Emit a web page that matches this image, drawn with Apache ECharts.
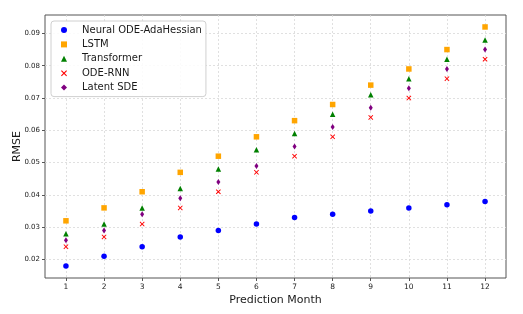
<!DOCTYPE html>
<html><head><meta charset="utf-8">
<script src="https://cdn.jsdelivr.net/npm/echarts@6/dist/echarts.min.js"></script>
<style>html,body{margin:0;padding:0;background:#fff}#c{width:523px;height:314px}</style>
</head><body><div id="c"></div>
<script>
const months = [1,2,3,4,5,6,7,8,9,10,11,12];
const neuralODE = [0.018,0.021,0.024,0.027,0.029,0.031,0.033,0.034,0.035,0.036,0.037,0.038];
const lstm = [0.032,0.036,0.041,0.047,0.052,0.058,0.063,0.068,0.074,0.079,0.085,0.092];
const transformer = [0.028,0.031,0.036,0.042,0.048,0.054,0.059,0.065,0.071,0.076,0.082,0.088];
const odeRnn = [0.024,0.027,0.031,0.036,0.041,0.047,0.052,0.058,0.064,0.070,0.076,0.082];
const latentSde = [0.026,0.029,0.034,0.039,0.044,0.049,0.055,0.061,0.067,0.073,0.079,0.085];
const seriesNames = ['Neural ODE-AdaHessian','LSTM','Transformer','ODE-RNN','Latent SDE'];
const yTicks = [0.02,0.03,0.04,0.05,0.06,0.07,0.08,0.09];

const pts = arr => months.map((m,i)=>[m, arr[i]]);
const xPath = 'path://M0,1.3L1.3,0L5,3.7L8.7,0L10,1.3L6.3,5L10,8.7L8.7,10L5,6.3L1.3,10L0,8.7L3.7,5Z';
const font = 'DejaVu Sans';
const chart = echarts.init(document.getElementById('c'));
chart.setOption({
  animation: false,
  backgroundColor: '#fff',
  grid: {left: 45, top: 15, right: 17, bottom: 36, show: true, borderColor: '#555', borderWidth: 1,
         backgroundColor: 'transparent', containLabel: false, outerBoundsMode: 'none'},
  legend: {
    orient: 'vertical', left: 51, top: 21,
    data: seriesNames,
    itemWidth: 6, itemHeight: 6, itemGap: 2.4,
    padding: [3, 4, 3, 10],
    backgroundColor: 'rgba(255,255,255,0.85)', borderColor: '#d0d0d0', borderWidth: 1, borderRadius: 3,
    textStyle: {fontFamily: font, fontSize: 10, color: '#1a1a1a', padding: [0,0,0,10], lineHeight: 12}
  },
  xAxis: {
    type: 'value', min: 0.45, max: 12.55,
    name: 'Prediction Month', nameLocation: 'middle', nameGap: 17, nameMoveOverlap: false,
    nameTextStyle: {fontFamily: font, fontSize: 11, color: '#1a1a1a'},
    axisLine: {show: false},
    axisTick: {show: true, length: 3, lineStyle: {color: '#555'}, customValues: months},
    axisLabel: {fontFamily: font, fontSize: 7.5, color: '#222', margin: 5, customValues: months,
      formatter: v => String(v)},
    splitLine: {show: true, lineStyle: {color: '#d8d8d8', type: [2,2], width: 0.8}}
  },
  yAxis: {
    type: 'value', min: 0.0143, max: 0.0957,
    name: 'RMSE', nameLocation: 'middle', nameGap: 22, nameMoveOverlap: false,
    nameTextStyle: {fontFamily: font, fontSize: 11, color: '#1a1a1a'},
    axisLine: {show: false},
    axisTick: {show: true, length: 3, lineStyle: {color: '#555'}, customValues: yTicks},
    axisLabel: {fontFamily: font, fontSize: 7, color: '#222', margin: 5, customValues: yTicks,
      formatter: v => v.toFixed(2)},
    splitLine: {show: true, lineStyle: {color: '#d8d8d8', type: [2,2], width: 0.8}}
  },
  series: [
    {name: seriesNames[0], type: 'scatter', data: pts(neuralODE), symbol: 'circle', symbolSize: 5.5, itemStyle: {color: '#0000ff', opacity: 1}},
    {name: seriesNames[1], type: 'scatter', data: pts(lstm), symbol: 'rect', symbolSize: 5.5, itemStyle: {color: '#ffa500', opacity: 1}},
    {name: seriesNames[2], type: 'scatter', data: pts(transformer), symbol: 'triangle', symbolSize: 5.5, itemStyle: {color: '#008000', opacity: 1}},
    {name: seriesNames[3], type: 'scatter', data: pts(odeRnn), symbol: xPath, symbolSize: 5, itemStyle: {color: '#ff0000', opacity: 1}},
    {name: seriesNames[4], type: 'scatter', data: pts(latentSde), symbol: 'diamond', symbolSize: [4,6], itemStyle: {color: '#800080', opacity: 1}}
  ]
});
</script></body></html>
